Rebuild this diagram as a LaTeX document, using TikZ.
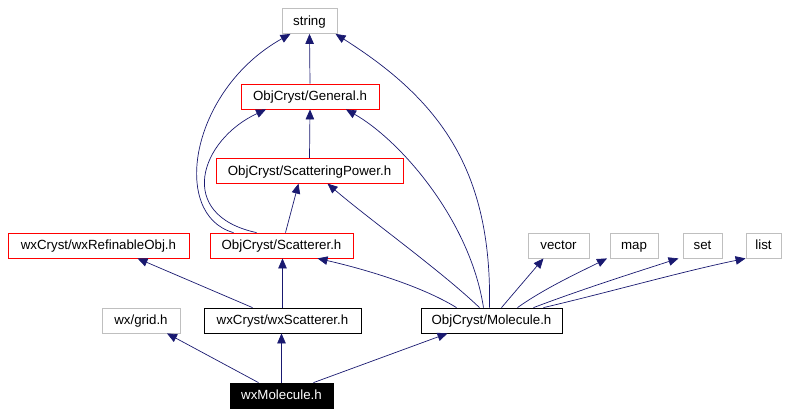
\documentclass[tikz,border=0pt]{standalone}
\usepackage{fontspec}
\setmainfont{Liberation Sans}
\usepackage{tikz}
\usetikzlibrary{arrows.meta}
\definecolor{depblue}{HTML}{191970}
\definecolor{extgray}{HTML}{BFBFBF}

\begin{document}
\begin{tikzpicture}[
    x=1pt, y=-1pt,
    hfile/.style={draw, line width=0.8pt, minimum height=25pt, inner sep=0pt, text height=10.6pt, text depth=1.8pt, font=\fontsize{13.3}{15}\selectfont},
    extfile/.style={hfile, draw=extgray},
    docfile/.style={hfile, draw=red},
    ownfile/.style={hfile, draw=black},
    dep/.style={draw=depblue, line width=0.7pt, -{Triangle[length=10pt, width=8.5pt]}}
]
\useasboundingbox (0,0) rectangle (791,415);

\node[extfile, minimum width=55pt]  (str)  at (309.5,21)    {string};
\node[docfile, minimum width=138pt] (gen)  at (310,96.5)    {ObjCryst/General.h};
\node[docfile, minimum width=187pt] (spw)  at (309.5,170.7) {ObjCryst/ScatteringPower.h};
\node[docfile, minimum width=181pt] (wxr)  at (98.5,245.5)  {wxCryst/wxRefinableObj.h};
\node[docfile, minimum width=143pt] (sca)  at (281.5,245.5) {ObjCryst/Scatterer.h};
\node[extfile, minimum width=61pt]  (vec)  at (558.5,245.5) {vector};
\node[extfile, minimum width=48pt]  (map)  at (634,245.5)   {map};
\node[extfile, minimum width=39pt]  (set)  at (702.5,245.5) {set};
\node[extfile, minimum width=35pt]  (lst)  at (763.5,245.5) {list};
\node[extfile, minimum width=78pt]  (grid) at (141,320.5)   {wx/grid.h};
\node[ownfile, minimum width=157pt] (wxs)  at (282.5,320.5) {wxCryst/wxScatterer.h};
\node[ownfile, minimum width=141pt] (mol)  at (491.5,320.5) {ObjCryst/Molecule.h};
\node[ownfile, fill=black, text=white, minimum width=103pt] (wxm) at (281.5,395.5) {wxMolecule.h};

\draw[dep] ([xshift=-23pt]wxm.north) -- ([xshift=26pt]grid.south);
\draw[dep] (wxm.north) -- (wxm.north |- wxs.south);
\draw[dep] ([xshift=32pt]wxm.north) -- ([xshift=-44pt]mol.south);

\draw[dep] ([xshift=-30pt]wxs.north) -- ([xshift=39pt]wxr.south);
\draw[dep] (wxs.north) -- (wxs.north |- sca.south);

\draw[dep] ([xshift=-35pt]mol.north) .. controls (420,285) and (360,268) .. ([xshift=36pt]sca.south);
\draw[dep] ([xshift=-12pt]mol.north) .. controls (440,270) and (370,220) .. ([xshift=18pt]spw.south);
\draw[dep] ([xshift=-8pt]mol.north) .. controls (470,220) and (400,140) .. ([xshift=36pt]gen.south);
\draw[dep] ([xshift=-2pt]mol.north) .. controls (492,170) and (440,100) .. ([xshift=26pt]str.south);
\draw[dep] ([xshift=10pt]mol.north) -- ([xshift=-15pt]vec.south);
\draw[dep] ([xshift=26pt]mol.north) .. controls (545,288) and (580,272) .. ([xshift=-27pt]map.south);
\draw[dep] ([xshift=42pt]mol.north) .. controls (580,290) and (630,274) .. ([xshift=-24pt]set.south);
\draw[dep] ([xshift=52pt]mol.north) .. controls (610,292) and (680,272) .. (lst.south west);

\draw[dep] ([xshift=4pt]sca.north) -- ([xshift=-11pt]spw.south);
\draw[dep] ([xshift=-25pt]sca.north) .. controls (175,215) and (200,140) .. ([xshift=-44pt]gen.south);
\draw[dep] ([xshift=-48pt]sca.north) .. controls (170,215) and (190,90) .. ([xshift=-19pt]str.south);

\draw[dep] (spw.north) -- (gen.south);
\draw[dep] (gen.north) -- (str.south);
\end{tikzpicture}
\end{document}
